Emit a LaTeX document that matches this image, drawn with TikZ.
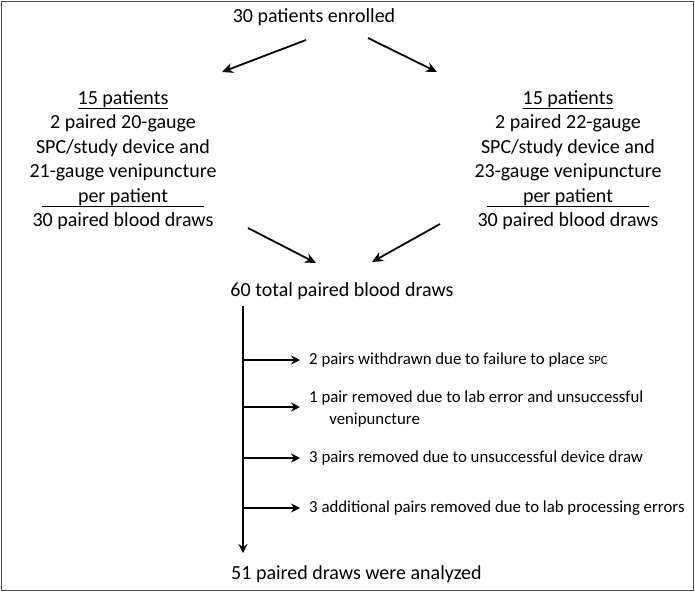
\documentclass[tikz,border=0pt]{standalone}
\usepackage{fontspec}
\setmainfont{Carlito}
\usetikzlibrary{arrows.meta}
\begin{document}
\begin{tikzpicture}[x=1pt,y=-1pt,
  big/.style={font=\fontsize{20}{24.5}\selectfont, align=center, inner sep=0pt},
  small/.style={font=\fontsize{16.8}{22}\selectfont, align=left, inner sep=0pt, anchor=west},
  arr/.style={-{Stealth[length=11pt,width=10pt]}, line width=1.8pt},
  harr/.style={-{Stealth[length=9pt,width=9pt]}, line width=1.5pt}]
\useasboundingbox (0,0) rectangle (695,592);
\draw[line width=1pt, gray!60!black] (1.5,1.5) rectangle (693.5,590.5);
\node[big] (top) at (314,17) {30 patients enrolled};
\node[big, anchor=north] (L) at (123,90) {\underline{15 patients}\\2 paired 20-gauge\\SPC/study device and\\21-gauge venipuncture\\\underline{\hspace{1.8em}per patient\hspace{1.8em}}\\30 paired blood draws};
\node[big, anchor=north] (R) at (568,90) {\underline{15 patients}\\2 paired 22-gauge\\SPC/study device and\\23-gauge venipuncture\\\underline{\hspace{1.8em}per patient\hspace{1.8em}}\\30 paired blood draws};
\node[big] (mid) at (342,291) {60 total paired blood draws};
\node[big, anchor=west] (bot) at (231,574) {51 paired draws were analyzed};
\coordinate (t1) at (306,40); \coordinate (t2) at (368,38);
\coordinate (l1) at (222,72); \coordinate (r1) at (437,72);
\draw[arr] (t1) -- (l1);
\draw[arr] (t2) -- (r1);
\coordinate (a1) at (248,228); \coordinate (a2) at (316,263);
\coordinate (b1) at (440,224); \coordinate (b2) at (372,262);
\draw[arr] (a1) -- (a2);
\draw[arr] (b1) -- (b2);
\coordinate (v0) at (243,306); \coordinate (v1) at (243,553);
\draw[harr] (v0) -- (v1);
\node[small] (s1) at (309,360) {2 pairs withdrawn due to failure to place {\fontsize{12.5}{14}\selectfont SPC}};
\node[small] (s2) at (309,409) {1 pair removed due to lab error and unsuccessful\\\hspace{1.2em}venipuncture};
\node[small] (s3) at (309,458) {3 pairs removed due to unsuccessful device draw};
\node[small] (s4) at (309,508) {3 additional pairs removed due to lab processing errors};
\foreach \y/\n in {360/s1,407/s2,458/s3,508/s4}{
  \coordinate (c\n) at (243,\y);
  \draw[harr] (c\n) -- (300,\y);
}
\end{tikzpicture}
\end{document}
